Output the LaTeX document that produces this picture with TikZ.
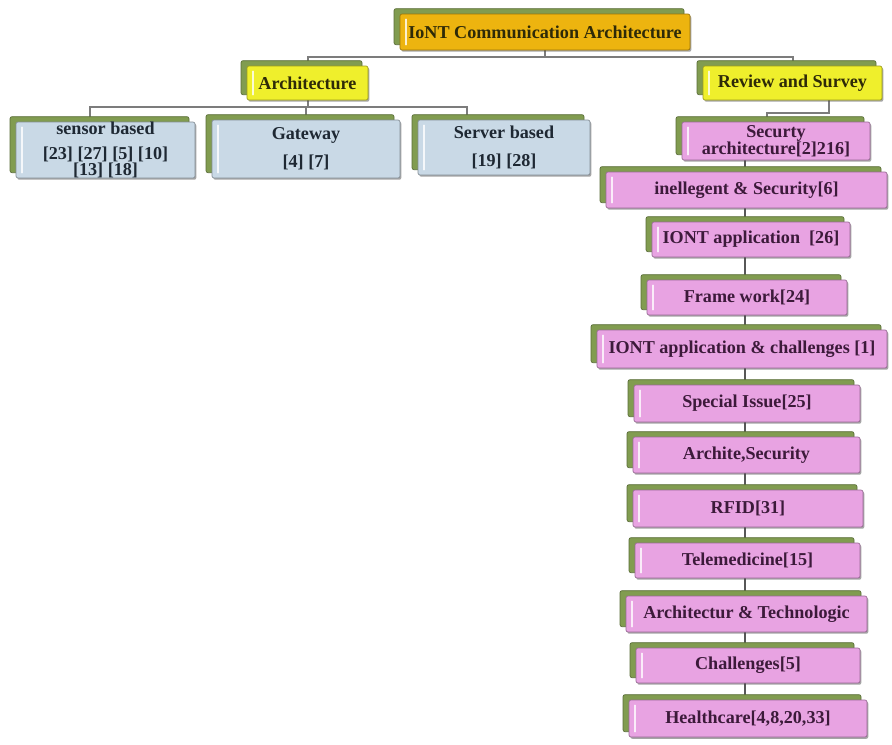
\documentclass[tikz,border=0pt]{standalone}
\usepackage{fontspec}
\setmainfont{Liberation Serif}
\usetikzlibrary{shadows, backgrounds, positioning}

\definecolor{rootfill}{HTML}{EDB40F}
\definecolor{yelfill}{HTML}{EFEF2C}
\definecolor{bluefill}{HTML}{C9D9E6}
\definecolor{pinkfill}{HTML}{E8A3E2}
\definecolor{leafgreen}{HTML}{819C50}
\definecolor{linkgray}{HTML}{7C7C7C}
\definecolor{pinktext}{HTML}{3C1A3A}
\definecolor{bluetext}{HTML}{1E2833}
\definecolor{yeltext}{HTML}{2E2A08}

\tikzset{
    tile/.style={rectangle, rounded corners=1.5pt, inner sep=0pt, align=center,
        font=\fontsize{13.6}{14.5}\selectfont\bfseries,
        fill=#1, draw=#1!65!black, line width=0.5pt,
        drop shadow={fill=black!70, shadow xshift=1pt, shadow yshift=-1.3pt},
        general shadow={fill=leafgreen, draw=leafgreen!70!black, shadow xshift=-4.5pt, shadow yshift=4pt},
        path picture={\draw[white, opacity=0.8, line width=1.2pt, line cap=round]
            ([xshift=4.5pt,yshift=4pt]path picture bounding box.south west) --
            ([xshift=4.5pt,yshift=-4pt]path picture bounding box.north west);}},
    rootbox/.style={tile=rootfill, text=yeltext},
    archbox/.style={tile=yelfill, text=yeltext},
    leafbox/.style={tile=bluefill, text=bluetext},
    pinkbox/.style={tile=pinkfill, text=pinktext},
    link/.style={draw=linkgray, line width=1.5pt},
    chain/.style={draw=linkgray!70!black, line width=1pt}
}

\begin{document}
\begin{tikzpicture}[x=0.75pt, y=-0.75pt]
    \useasboundingbox (0,0) rectangle (892,744);

    % top level
    \node[rootbox, minimum width=217.5pt, minimum height=27pt] (root) at (545,32) {IoNT Communication Architecture};
    \node[archbox, minimum width=90.75pt, minimum height=25.5pt] (arch) at (307.5,83) {Architecture};
    \node[archbox, minimum width=134.25pt, minimum height=25.5pt] (rev) at (792.5,83) {Review and Survey};

    % architecture branch
    \node[leafbox, minimum width=134.25pt, minimum height=42pt] (sensor) at (105.5,150)
        {sensor based\\[4pt] [23] [27] [5] [10]\\[-2.5pt] [13] [18]};
    \node[leafbox, minimum width=141pt, minimum height=43.5pt] (gateway) at (306,149)
        {Gateway\\[6.5pt] [4] [7]};
    \node[leafbox, minimum width=129pt, minimum height=41.25pt] (server) at (504,147.5)
        {Server based\\[6.5pt] [19] [28]};

    % review branch
    \node[pinkbox, minimum width=141pt, minimum height=28.5pt] (sec) at (776,141)
        {Securty\\[-1.5pt] architecture[2]216]};
    \node[pinkbox, minimum width=210.75pt, minimum height=27pt] (intel) at (746.5,190) {inellegent \& Security[6]};
    \node[pinkbox, minimum width=148.5pt, minimum height=26.25pt] (app) at (751,239.5) {IONT application~~[26]};
    \node[pinkbox, minimum width=150pt, minimum height=26.25pt] (frame) at (747,297.5) {Frame work[24]};
    \node[pinkbox, minimum width=217.5pt, minimum height=28.5pt] (appch) at (742,349) {IONT application \& challenges [1]};
    \node[pinkbox, minimum width=169.5pt, minimum height=27.75pt] (special) at (747,403.5) {Special Issue[25]};
    \node[pinkbox, minimum width=170.25pt, minimum height=27pt] (archsec) at (746.5,455) {Archite,Security};
    \node[pinkbox, minimum width=172.5pt, minimum height=27.75pt] (rfid) at (748,508.5) {RFID[31]};
    \node[pinkbox, minimum width=168.75pt, minimum height=26.25pt] (tele) at (747.5,560.5) {Telemedicine[15]};
    \node[pinkbox, minimum width=180.75pt, minimum height=27pt] (archtech) at (746.5,614) {Architectur \& Technologic};
    \node[pinkbox, minimum width=168pt, minimum height=26.25pt] (chall) at (748,665.5) {Challenges[5]};
    \node[pinkbox, minimum width=178.5pt, minimum height=27.75pt] (health) at (748,718.5) {Healthcare[4,8,20,33]};

    \coordinate (spine) at (745,0);

    % connectors
    \begin{scope}[on background layer]
        \fill[white] (0,0) rectangle (892,744);
        \draw[link] (root.south) -- ++(0,7) -| (arch.north);
        \draw[link] (root.south) -- ++(0,7) -| (rev.north);
        \draw[link] (arch.south) -- ++(0,7) -| ([xshift=-12pt]sensor.north);
        \draw[link] (arch.south) -- ++(0,7) -| (gateway.north);
        \draw[link] (arch.south) -- ++(0,7) -| ([xshift=-28pt]server.north);
        \draw[link] ([xshift=27pt]rev.south) -- ++(0,13) -| ([xshift=-6.75pt]sec.north);
        \foreach \a/\b in {sec/intel, intel/app, app/frame, frame/appch, appch/special,
                special/archsec, archsec/rfid, rfid/tele, tele/archtech, archtech/chall, chall/health}
            \draw[chain] (\a.south -| spine) -- (\b.north -| spine);
    \end{scope}
\end{tikzpicture}
\end{document}
